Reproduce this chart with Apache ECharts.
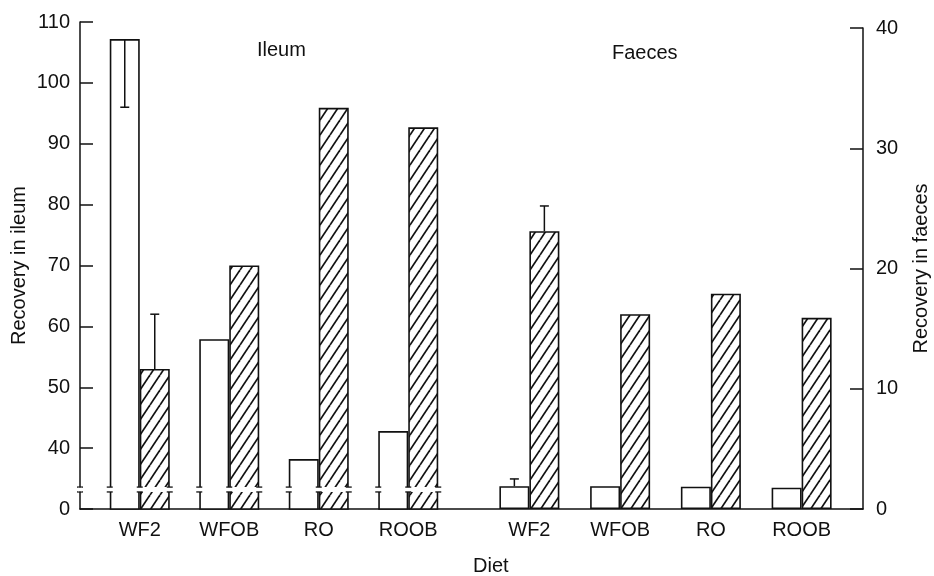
<!DOCTYPE html>
<html>
<head>
<meta charset="utf-8">
<script src="https://cdn.jsdelivr.net/npm/echarts@6/dist/echarts.min.js"></script>
<style>
  html, body { margin: 0; padding: 0; background: #fff; }
  #chart { width: 934px; height: 576px; }
</style>
</head>
<body>
<div id="chart"></div>
<script>
// values
const diets = ['WF2', 'WFOB', 'RO', 'ROOB'];
const ileumPlain = [107.2, 57.9, 38.2, 42.8];
const ileumHatched = [53, 70, 95.9, 92.7];
const faecesPlain = [1.9, 1.9, 1.85, 1.77];
const faecesHatched = [23.1, 16.2, 17.9, 15.9];
// far end of each error bar, null where none is drawn
const ileumPlainErr = [96, null, null, null];
const ileumHatchedErr = [62, null, null, null];
const faecesPlainErr = [2.5, null, null, null];
const faecesHatchedErr = [25.2, null, null, null];
// left axis is broken: the baseline is labelled 0, the scale resumes at 40
const ileumTickLabels = ['0', '40', '50', '60', '70', '80', '90', '100', '110'];
const ileumBreak = [32.8, 33.6];

const BAR_W = 30;
const CAP = 4.5;
const INK = '#111';
const FONT = 'Liberation Sans, Arial, Helvetica, sans-serif';

function hatch() {
  const w = 10, h = 15;
  const c = document.createElement('canvas');
  c.width = w; c.height = h;
  const g = c.getContext('2d');
  g.fillStyle = '#fff';
  g.fillRect(0, 0, w, h);
  g.strokeStyle = INK;
  g.lineWidth = 1.7;
  for (const dx of [-w, 0, w]) {
    g.beginPath(); g.moveTo(dx, h); g.lineTo(dx + w, 0); g.stroke();
  }
  return c;
}
const hatchFill = { image: hatch(), repeat: 'repeat' };

function bars(name, vals, xi, yi, fill) {
  return {
    name: name, type: 'bar', xAxisIndex: xi, yAxisIndex: yi,
    data: vals, barWidth: BAR_W, barGap: '0%',
    itemStyle: { color: fill, borderColor: INK, borderWidth: 1.6 },
    silent: true
  };
}

function errBars(vals, ends, xi, yi, side) {
  const data = [];
  ends.forEach((e, i) => { if (e != null) data.push([i, vals[i], e]); });
  return {
    type: 'custom', xAxisIndex: xi, yAxisIndex: yi, z: 5, silent: true,
    data: data,
    renderItem: (params, api) => {
      const p0 = api.coord([api.value(0), api.value(1)]);
      const p1 = api.coord([api.value(0), api.value(2)]);
      const x = p0[0] + side * BAR_W / 2;
      const st = { stroke: INK, lineWidth: 1.5 };
      return {
        type: 'group', children: [
          { type: 'line', shape: { x1: x, y1: p0[1], x2: x, y2: p1[1] }, style: st },
          { type: 'line', shape: { x1: x - CAP, y1: p1[1], x2: x + CAP, y2: p1[1] }, style: st }
        ]
      };
    }
  };
}

// white gap and little serifs where the ileum bars cross the axis break
const breakMarks = {
  type: 'custom', xAxisIndex: 0, yAxisIndex: 0, z: 12, silent: true,
  data: diets.map((d, i) => [i]),
  renderItem: (params, api) => {
    const lo = api.coord([api.value(0), ileumBreak[0]]);
    const hi = api.coord([api.value(0), ileumBreak[1]]);
    const st = { stroke: INK, lineWidth: 1.3 };
    const kids = [{
      type: 'rect',
      shape: { x: lo[0] - BAR_W - 3, y: hi[1], width: 2 * BAR_W + 6, height: lo[1] - hi[1] },
      style: { fill: '#fff' }
    }];
    const edges = [lo[0] - BAR_W, lo[0], lo[0] + BAR_W];
    if (params.dataIndex === 0) edges.push(params.coordSys.x - 15);
    edges.forEach(x => {
      kids.push({ type: 'line', shape: { x1: x - 3, y1: lo[1], x2: x + 3, y2: lo[1] }, style: st });
      kids.push({ type: 'line', shape: { x1: x - 3, y1: hi[1], x2: x + 3, y2: hi[1] }, style: st });
    });
    if (params.dataIndex === 0) {
      const ax = params.coordSys.x - 15;
      kids.push({ type: 'rect', shape: { x: ax - 2, y: hi[1] + 0.7, width: 4, height: lo[1] - hi[1] - 1.4 }, style: { fill: '#fff' } });
    }
    return { type: 'group', children: kids };
  }
};

const labelStyle = { color: INK, fontSize: 20, fontFamily: FONT };

const option = {
  backgroundColor: '#fff',
  animation: false,
  grid: [
    { left: 95, right: 481, top: 22, bottom: 67 },   // ileum
    { left: 484, right: 87, top: 28, bottom: 67 },   // faeces
    { left: 80, right: 71, top: 22, bottom: 67 }     // shared baseline
  ],
  xAxis: [
    { type: 'category', gridIndex: 0, data: diets, axisLine: { show: false }, axisTick: { show: false },
      axisLabel: Object.assign({ margin: 11 }, labelStyle) },
    { type: 'category', gridIndex: 1, data: diets, axisLine: { show: false }, axisTick: { show: false },
      axisLabel: Object.assign({ margin: 11 }, labelStyle) },
    { type: 'category', gridIndex: 2, data: [], axisLine: { show: true, lineStyle: { color: INK, width: 1.5 } },
      axisTick: { show: false }, axisLabel: { show: false } }
  ],
  yAxis: [
    { type: 'value', gridIndex: 0, position: 'left', offset: 15, min: 30, max: 110, interval: 10,
      name: 'Recovery in ileum', nameLocation: 'middle', nameRotate: 90, nameGap: 51,
      nameTextStyle: labelStyle,
      axisLine: { show: true, lineStyle: { color: INK, width: 1.5 } },
      axisTick: { show: true, inside: true, length: 13, lineStyle: { color: INK, width: 1.5 } },
      axisLabel: Object.assign({ margin: 10, formatter: (v, i) => ileumTickLabels[i] }, labelStyle),
      splitLine: { show: false } },
    { type: 'value', gridIndex: 1, position: 'right', offset: 16, min: 0, max: 40, interval: 10,
      name: 'Recovery in faeces', nameLocation: 'middle', nameRotate: 90, nameGap: 48,
      nameTextStyle: labelStyle,
      axisLine: { show: true, lineStyle: { color: INK, width: 1.5 } },
      axisTick: { show: true, inside: true, length: 13, lineStyle: { color: INK, width: 1.5 } },
      axisLabel: Object.assign({ margin: 13 }, labelStyle),
      splitLine: { show: false } },
    { type: 'value', gridIndex: 2, show: false }
  ],
  graphic: [
    { type: 'text', left: 257, top: 40, style: { text: 'Ileum', fill: INK, font: '20px ' + FONT } },
    { type: 'text', left: 612, top: 43, style: { text: 'Faeces', fill: INK, font: '20px ' + FONT } },
    { type: 'text', left: 473, top: 556, style: { text: 'Diet', fill: INK, font: '20px ' + FONT } }
  ],
  series: [
    bars('Ileum plain', ileumPlain, 0, 0, '#fff'),
    bars('Ileum hatched', ileumHatched, 0, 0, hatchFill),
    bars('Faeces plain', faecesPlain, 1, 1, '#fff'),
    bars('Faeces hatched', faecesHatched, 1, 1, hatchFill),
    errBars(ileumPlain, ileumPlainErr, 0, 0, -1),
    errBars(ileumHatched, ileumHatchedErr, 0, 0, 1),
    errBars(faecesPlain, faecesPlainErr, 1, 1, -1),
    errBars(faecesHatched, faecesHatchedErr, 1, 1, 1),
    breakMarks
  ]
};

const chart = echarts.init(document.getElementById('chart'), null, { renderer: 'canvas' });
chart.setOption(option);
</script>
</body>
</html>
